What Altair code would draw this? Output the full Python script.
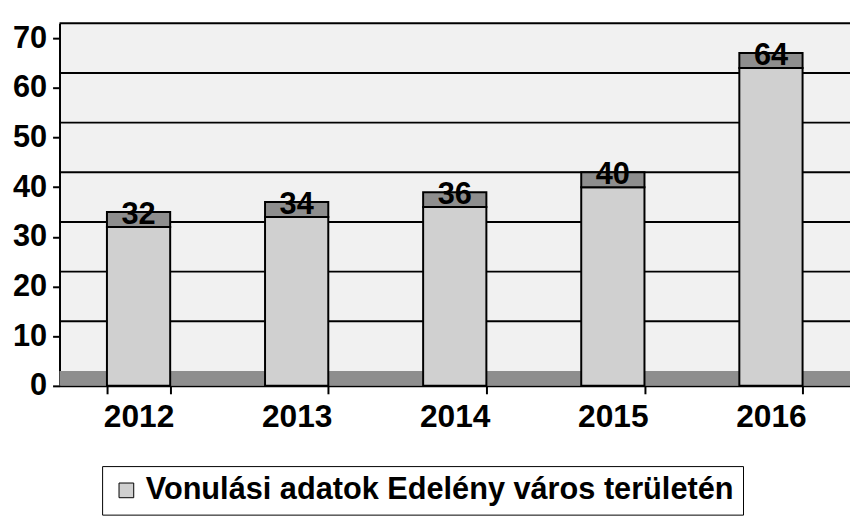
import altair as alt
import pandas as pd

# ---- data ----
years = ["2012", "2013", "2014", "2015", "2016"]
values = [32, 34, 36, 40, 64]
series_name = "Vonulási adatok Edelény város területén"
y_ticks = [0, 10, 20, 30, 40, 50, 60, 70]

# ---- style constants ----
DEPTH = 3            # pseudo-3D depth (value units)
FONT = "Liberation Sans"
FONT_SIZE = 31
BAR_FILL = "#d0d0d0"
DARK_FILL = "#8e8e8e"
WALL_FILL = "#f1f1f1"

bars_df = pd.DataFrame({"year": years, "value": values, "series": [series_name] * len(years)})
grid_df = pd.DataFrame({"tick": y_ticks[1:]})
floor_df = pd.DataFrame({"tick": y_ticks[:1]})

x_enc = alt.X(
    "year:N",
    sort=years,
    scale=alt.Scale(paddingInner=0.6, paddingOuter=0.3),
    axis=alt.Axis(
        title=None,
        labelAngle=0,
        labelFontSize=32,
        labelFontWeight="bold",
        labelColor="black",
        labelPadding=8,
        domainColor="black",
        domainWidth=2,
        tickColor="black",
        tickWidth=2,
        tickSize=8,
        tickBand="extent",
        grid=False,
    ),
)

y_scale = alt.Scale(domain=[0, 73], nice=False, zero=True)
y_axis = alt.Axis(
    title=None,
    values=y_ticks,
    labelFontSize=FONT_SIZE,
    labelFontWeight="bold",
    labelColor="black",
    labelPadding=6,
    domainColor="black",
    domainWidth=2,
    tickColor="black",
    tickWidth=2,
    tickSize=7,
    grid=False,
)

# floor strip (3D base)
floor = alt.Chart(floor_df).transform_calculate(
    top=f"datum.tick + {DEPTH}"
).mark_rect(color=DARK_FILL).encode(
    y=alt.Y("tick:Q", scale=y_scale, axis=y_axis),
    y2="top:Q",
)

# gridlines on the back wall
grid = alt.Chart(grid_df).transform_calculate(
    gy=f"datum.tick + {DEPTH}"
).mark_rule(color="black", strokeWidth=2).encode(
    y=alt.Y("gy:Q", scale=y_scale),
)

bars = alt.Chart(bars_df).mark_bar(stroke="black", strokeWidth=2).encode(
    x=x_enc,
    y=alt.Y("value:Q", scale=y_scale),
    color=alt.Color(
        "series:N",
        scale=alt.Scale(domain=[series_name], range=[BAR_FILL]),
        legend=alt.Legend(
            title=None,
            orient="none",
            legendX=43,
            legendY=447,
            labelFontSize=31,
            labelFontWeight="bold",
            labelColor="black",
            labelLimit=0,
            symbolType="square",
            symbolSize=220,
            symbolStrokeColor="black",
            symbolStrokeWidth=1,
            strokeColor="black",
            fillColor="white",
            padding=9,
        ),
    ),
)

caps = alt.Chart(bars_df).transform_calculate(
    top=f"datum.value + {DEPTH}"
).mark_bar(fill=DARK_FILL, stroke="black", strokeWidth=2).encode(
    x=alt.X("year:N", sort=years),
    y=alt.Y("value:Q", scale=y_scale),
    y2="top:Q",
)

labels = alt.Chart(bars_df).mark_text(
    fontSize=FONT_SIZE, fontWeight="bold", baseline="alphabetic", dy=-3, color="black"
).encode(
    x=alt.X("year:N", sort=years),
    y=alt.Y("value:Q", scale=y_scale),
    text="value:Q",
)

chart = alt.layer(floor, grid, bars, caps, labels).properties(
    width=798,
    height=366,
    autosize=alt.AutoSizeParams(type="none"),
    padding={"left": 52, "top": 13, "right": 0, "bottom": 136},
).configure(
    font=FONT,
).configure_view(
    fill=WALL_FILL,
    stroke="transparent",
)

chart.save("out.html", embed_options={"renderer": "svg", "actions": False})
